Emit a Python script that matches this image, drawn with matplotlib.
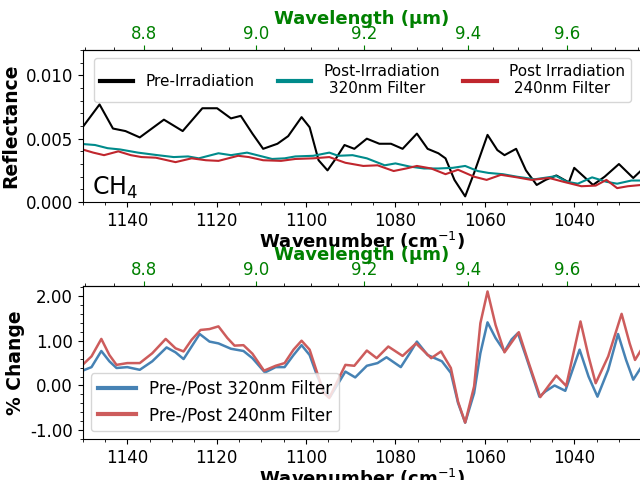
import matplotlib
matplotlib.use("Agg")
import matplotlib.pyplot as plt
import numpy as np
from matplotlib.ticker import AutoMinorLocator, FormatStrFormatter

# --- top panel: reflectance spectra ---
wn_pre = [1150, 1146.2, 1143.2, 1140.4, 1137.2, 1131.8, 1127.6, 1123.2, 1119.9, 1116.8,
          1114.6, 1112, 1109.6, 1106.4, 1104, 1101, 1099.2, 1097.2, 1095.2, 1093.2,
          1091.4, 1089.2, 1086.4, 1083.6, 1081, 1078.4, 1075.2, 1072.8, 1070.4, 1068.8,
          1066.8, 1064.4, 1062.4, 1059.4, 1057.2, 1055.6, 1053, 1050.8, 1048.4, 1046.4,
          1044, 1041.2, 1040, 1035.8, 1033.2, 1030, 1026.8, 1025]
pre = [5.9, 7.7, 5.8, 5.6, 5.1, 6.5, 5.6, 7.4, 7.4, 6.6,
       6.8, 5.4, 4.2, 4.6, 5.2, 6.7, 5.9, 3.3, 2.5, 3.5,
       4.5, 4.2, 5.0, 4.6, 4.6, 4.2, 5.4, 4.2, 3.85, 3.45,
       1.75, 0.45, 2.3, 5.3, 4.1, 3.7, 4.2, 2.5, 1.35, 1.75,
       2.1, 1.55, 2.7, 1.35, 2.0, 3.0, 1.9, 2.5]

wn_320 = [1150, 1147.2, 1144.4, 1141.6, 1137.6, 1133.2, 1129.6, 1126.4, 1124, 1119.6,
          1116.8, 1113.2, 1110.4, 1107.6, 1104.8, 1102.4, 1098.4, 1094.8, 1092.8, 1089.6,
          1086.4, 1082.4, 1080, 1076.8, 1073.6, 1070.4, 1067.2, 1064.4, 1061.6, 1059.2,
          1056, 1052.8, 1048.8, 1044, 1041.6, 1039.2, 1036, 1032.8, 1030.4, 1027.2, 1025]
post_320 = [4.58, 4.5, 4.25, 4.15, 3.9, 3.7, 3.55, 3.6, 3.45, 3.85,
            3.7, 3.9, 3.65, 3.4, 3.45, 3.6, 3.65, 3.9, 3.65, 3.7,
            3.45, 2.9, 3.05, 2.8, 2.65, 2.65, 2.7, 2.85, 2.45, 2.3,
            2.2, 2.0, 1.8, 2.05, 1.6, 1.45, 1.95, 1.6, 1.45, 1.7, 1.7]

wn_240 = [1150, 1147.6, 1145.2, 1142, 1139.2, 1136.8, 1133.6, 1129.2, 1125.6, 1122.4,
          1119.6, 1115.2, 1112.8, 1109.6, 1105.6, 1102.4, 1098.4, 1094.8, 1091.2, 1087.2,
          1084, 1080.4, 1077.6, 1075.2, 1072, 1068.8, 1066, 1062.4, 1059.6, 1056.4,
          1052.8, 1049.6, 1045.6, 1042.4, 1038.4, 1035.2, 1032.8, 1030.4, 1028, 1025]
post_240 = [4.15, 3.9, 3.7, 4.0, 3.7, 3.55, 3.5, 3.15, 3.45, 3.3,
            3.25, 3.65, 3.55, 3.3, 3.25, 3.4, 3.45, 3.55, 3.1, 2.85,
            2.9, 2.45, 2.65, 2.85, 2.65, 2.2, 2.55, 2.0, 1.75, 2.15,
            1.95, 1.75, 1.9, 1.6, 1.25, 1.3, 1.75, 1.1, 1.25, 1.35]

# --- bottom panel: percent change ---
wn_c320 = [1150, 1148, 1145.8, 1144, 1142.4, 1140, 1137.2, 1134.4, 1131.2, 1129.2,
           1127.4, 1125.6, 1123.8, 1121.6, 1119.6, 1116.8, 1114, 1112, 1109.2, 1106.8,
           1104.8, 1102.8, 1101, 1099.2, 1097.6, 1096, 1094.6, 1093.2, 1091.2, 1089,
           1086.4, 1084, 1082, 1078.8, 1076.8, 1075.2, 1072.8, 1069.6, 1067.6, 1066,
           1064.4, 1062.4, 1061, 1059.4, 1057.6, 1055.6, 1054, 1052.6, 1050.8, 1047.8,
           1046.4, 1044.4, 1042, 1038.8, 1036.8, 1034.8, 1032.4, 1030.2, 1028.4, 1026.8, 1025]
chg_320 = [0.33, 0.41, 0.77, 0.54, 0.39, 0.41, 0.35, 0.54, 0.85, 0.74,
           0.59, 0.87, 1.15, 0.98, 0.94, 0.82, 0.77, 0.61, 0.29, 0.41,
           0.41, 0.68, 0.90, 0.68, 0.24, -0.13, -0.25, -0.02, 0.31, 0.18,
           0.44, 0.50, 0.63, 0.41, 0.72, 0.98, 0.68, 0.54, 0.28, -0.39,
           -0.83, -0.17, 0.72, 1.41, 1.06, 0.76, 1.03, 1.17, 0.65, -0.25,
           -0.13, 0.0, -0.12, 0.80, 0.20, -0.25, 0.35, 1.15, 0.57, 0.13, 0.41]

wn_c240 = [1150, 1148, 1145.8, 1144, 1142.4, 1140, 1137.2, 1134.4, 1131.4, 1129.2,
           1127.4, 1125.6, 1123.6, 1121.6, 1119.6, 1117.6, 1116, 1114, 1112, 1109.4,
           1106.8, 1104.8, 1102.8, 1101, 1099.2, 1097.6, 1096, 1094.8, 1093.2, 1091.2,
           1089.2, 1086.4, 1084.2, 1081.6, 1078.4, 1075.4, 1072, 1069.8, 1067.6, 1066,
           1064.4, 1062.4, 1061, 1059.4, 1057.6, 1055.6, 1052.4, 1050.4, 1047.6, 1045.6,
           1044, 1041.8, 1038.6, 1036.8, 1035.2, 1032.4, 1029.4, 1027.6, 1026.4, 1025]
chg_240 = [0.46, 0.65, 1.04, 0.68, 0.46, 0.50, 0.50, 0.72, 1.04, 0.83,
           0.76, 1.02, 1.24, 1.26, 1.32, 1.06, 0.89, 0.90, 0.71, 0.33,
           0.44, 0.50, 0.80, 1.00, 0.80, 0.31, -0.17, -0.28, 0.05, 0.46,
           0.44, 0.78, 0.61, 0.87, 0.66, 0.94, 0.61, 0.76, 0.39, -0.36,
           -0.83, -0.02, 1.39, 2.10, 1.35, 0.74, 1.19, 0.57, -0.26, 0.01,
           0.22, -0.01, 1.43, 0.65, 0.05, 0.65, 1.60, 0.94, 0.57, 0.80]


def wn_to_um(x):
    x = np.asarray(x, dtype=float)
    with np.errstate(divide="ignore"):
        return 1e4 / x


def add_wavelength_axis(ax):
    sec = ax.secondary_xaxis("top", functions=(wn_to_um, wn_to_um))
    sec.set_xlabel("Wavelength (\u03bcm)", color="green", fontsize=13,
                   fontweight="bold", labelpad=1)
    sec.xaxis.set_minor_locator(AutoMinorLocator())
    sec.tick_params(axis="x", which="both", labelcolor="green", labelsize=12, pad=1.5)
    sec.tick_params(axis="x", which="major", color="green")
    return sec


fig = plt.figure(figsize=(6.4, 4.8), dpi=100)
ax1 = fig.add_axes([0.129, 0.579, 0.873, 0.317])
ax2 = fig.add_axes([0.129, 0.085, 0.873, 0.319])

scale = 1e-3
ax1.plot(wn_pre, np.array(pre) * scale, color="black", lw=1.5, label="Pre-Irradiation")
ax1.plot(wn_320, np.array(post_320) * scale, color="#008b8b", lw=1.5,
         label="Post-Irradiation\n 320nm Filter")
ax1.plot(wn_240, np.array(post_240) * scale, color="#c0262d", lw=1.5,
         label="Post Irradiation\n 240nm Filter")
ax1.set_xlim(1150, 1025)
ax1.set_ylim(0, 0.012)
ax1.set_yticks([0, 0.005, 0.010])
ax1.yaxis.set_major_formatter(FormatStrFormatter("%.3f"))
ax1.set_ylabel("Reflectance", fontsize=13.5, fontweight="bold")
ax1.set_xlabel("Wavenumber (cm$^{-1}$)", fontsize=13, fontweight="bold", labelpad=0)
ax1.text(0.017, 0.045, "CH$_4$", transform=ax1.transAxes, fontsize=17)
leg1 = ax1.legend(loc="upper left", ncol=3, fontsize=11, mode="expand",
                  bbox_to_anchor=(0.006, 0.0, 0.99, 1.0), handlelength=2.2)
for line in leg1.get_lines():
    line.set_linewidth(3)

ax2.plot(wn_c320, chg_320, color="steelblue", lw=1.8, label="Pre-/Post 320nm Filter")
ax2.plot(wn_c240, chg_240, color="indianred", lw=1.8, label="Pre-/Post 240nm Filter")
ax2.set_xlim(1150, 1025)
ax2.set_ylim(-1.2, 2.22)
ax2.set_yticks([-1, 0, 1, 2])
ax2.yaxis.set_major_formatter(FormatStrFormatter("%.2f"))
ax2.set_ylabel("% Change", fontsize=13.5, fontweight="bold")
ax2.set_xlabel("Wavenumber (cm$^{-1}$)", fontsize=13, fontweight="bold", labelpad=0)
leg2 = ax2.legend(loc="lower left", fontsize=12, handlelength=2.3)
for line in leg2.get_lines():
    line.set_linewidth(3)

for ax in (ax1, ax2):
    ax.xaxis.set_minor_locator(AutoMinorLocator())
    ax.yaxis.set_minor_locator(AutoMinorLocator())
    ax.tick_params(axis="both", which="major", labelsize=12)
    add_wavelength_axis(ax)

fig.savefig("out.png", dpi=100)
